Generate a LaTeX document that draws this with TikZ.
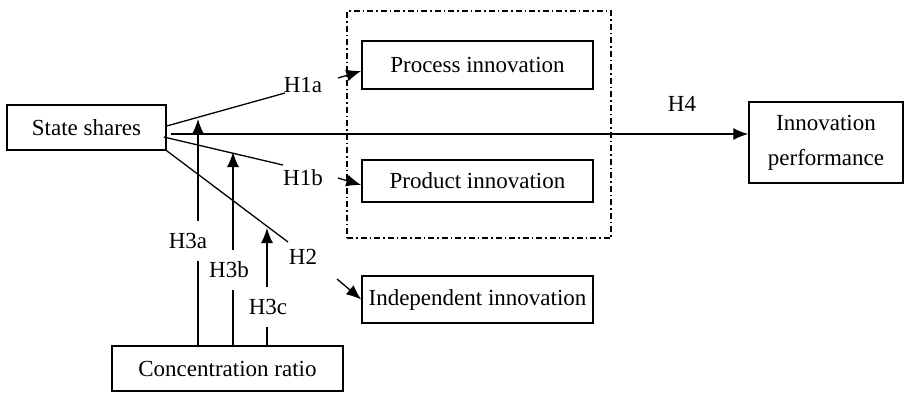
\documentclass[tikz,border=0pt]{standalone}
\usepackage{fontspec}
\setmainfont{Liberation Serif}
\usetikzlibrary{arrows.meta}
\begin{document}
\begin{tikzpicture}[x=1pt,y=-1pt,
  every node/.style={font=\fontsize{23}{35}\selectfont},
  box/.style={draw,line width=1.5pt,inner sep=0pt,align=center},
  lab/.style={inner sep=1pt},
  vlab/.style={fill=white,inner xsep=2pt,inner ysep=12pt},
  ln/.style={line width=1.3pt},
  arr/.style={line width=1.3pt,-{Latex[length=15pt,width=12pt]}},
  grp/.style={draw,line width=1.1pt,dash pattern=on 6pt off 3pt on 1.5pt off 3pt}]
\useasboundingbox (0,0) rectangle (906,392);
% group box
\node[grp,minimum width=264pt,minimum height=227pt,inner sep=0pt] (grpbox) at (479,124.5) {};
% boxes
\node[box,minimum width=159pt,minimum height=45pt] (ss) at (86.5,127.5) {State shares};
\node[box,minimum width=231pt,minimum height=48pt] (pi) at (477.5,65) {Process innovation};
\node[box,minimum width=231pt,minimum height=42pt] (pd) at (477.5,181) {Product innovation};
\node[box,minimum width=231pt,minimum height=47pt] (ii) at (477.5,299.5) {Independent innovation};
\node[box,minimum width=154pt,minimum height=81pt] (ip) at (826,142.5) {Innovation\\performance};
\node[box,minimum width=231pt,minimum height=45pt] (cr) at (227.5,368.5) {Concentration ratio};
% labels
\node[lab] (h1a) at (303,85) {H1a};
\node[lab] (h1b) at (303,178) {H1b};
\node[lab] (h2) at (303,257) {H2};
\node[lab] (h4) at (682,104) {H4};
% coordinates
\coordinate (a1s) at (338,78);
\coordinate (a1e) at (285,93);
\coordinate (b1s) at (338,178);
\coordinate (b1e) at (283,165);
\coordinate (c1s) at (337,279);
\coordinate (c1e) at (288,242);
\coordinate (t3a) at (198,119);
\coordinate (t3b) at (233,152);
\coordinate (t3c) at (267,228);
% H1a
\draw[ln] ([yshift=1.5pt]ss.east) -- (a1e);
\draw[arr] (a1s) -- ([yshift=-6pt]pi.west);
% H1b
\draw[ln] ([xshift=-3pt,yshift=-9.5pt]ss.east) -- (b1e);
\draw[arr] (b1s) -- ([yshift=-4pt]pd.west);
% H2
\draw[ln] (ss.south east) -- (c1e);
\draw[arr] (c1s) -- (ii.west);
% H4
\draw[arr] ([xshift=4pt,yshift=-6.5pt]ss.east) -- ([yshift=8.5pt]ip.west);
% H3
\draw[arr] (cr.north -| t3a) -- (t3a);
\draw[arr] (cr.north -| t3b) -- (t3b);
\draw[arr] (cr.north -| t3c) -- (t3c);
\node[vlab] (h3a) at (188,241) {H3a};
\node[vlab] (h3b) at (229,270) {H3b};
\node[vlab] (h3c) at (268,307) {H3c};
\end{tikzpicture}
\end{document}
